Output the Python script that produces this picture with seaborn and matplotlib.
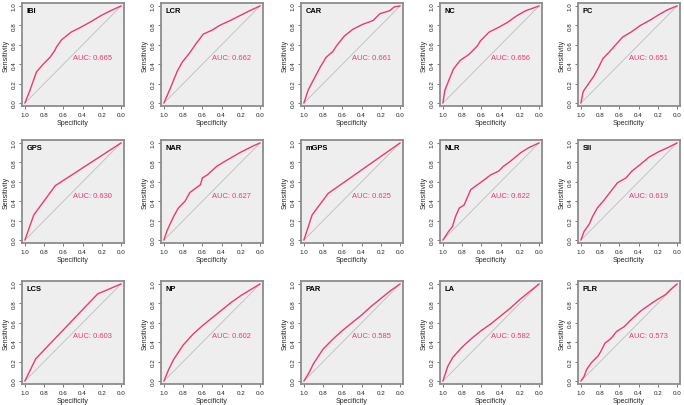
import matplotlib
matplotlib.use("Agg")
import matplotlib.pyplot as plt
import seaborn as sns
import pandas as pd

# ---------------- data ----------------
markers = ["IBI", "LCR", "CAR", "NC", "PC",
           "GPS", "NAR", "mGPS", "NLR", "SII",
           "LCS", "NP", "PAR", "LA", "PLR"]
auc_values = [0.665, 0.662, 0.661, 0.656, 0.651,
              0.630, 0.627, 0.625, 0.622, 0.619,
              0.603, 0.602, 0.585, 0.582, 0.573]

ibi_spec = [1.0, 0.948, 0.88, 0.81, 0.74, 0.69, 0.67, 0.62, 0.52, 0.42, 0.31, 0.21, 0.11, 0.0]
ibi_sens = [0.0, 0.13, 0.32, 0.40, 0.47, 0.54, 0.58, 0.65, 0.73, 0.78, 0.84, 0.90, 0.95, 1.0]

lcr_spec = [1.0, 0.93, 0.86, 0.81, 0.73, 0.66, 0.59, 0.50, 0.42, 0.31, 0.21, 0.11, 0.0]
lcr_sens = [0.0, 0.16, 0.33, 0.42, 0.52, 0.62, 0.71, 0.75, 0.80, 0.85, 0.90, 0.95, 1.0]

car_spec = [1.0, 0.955, 0.90, 0.83, 0.77, 0.70, 0.66, 0.58, 0.49, 0.39, 0.28, 0.21, 0.11, 0.06, 0.0]
car_sens = [0.0, 0.135, 0.24, 0.37, 0.47, 0.53, 0.59, 0.69, 0.76, 0.81, 0.85, 0.92, 0.95, 0.99, 1.0]

nc_spec = [1.0, 0.98, 0.94, 0.89, 0.82, 0.73, 0.64, 0.61, 0.52, 0.42, 0.33, 0.23, 0.14, 0.0]
nc_sens = [0.0, 0.13, 0.23, 0.35, 0.44, 0.50, 0.59, 0.64, 0.73, 0.78, 0.83, 0.90, 0.95, 1.0]

pc_spec = [1.0, 0.976, 0.92, 0.87, 0.82, 0.77, 0.70, 0.63, 0.565, 0.48, 0.38, 0.27, 0.19, 0.10, 0.0]
pc_sens = [0.0, 0.12, 0.20, 0.27, 0.36, 0.46, 0.53, 0.61, 0.68, 0.73, 0.80, 0.86, 0.91, 0.96, 1.0]

gps_spec = [1.0, 0.907, 0.684, 0.0]
gps_sens = [0.0, 0.26, 0.56, 1.0]

nar_spec = [1.0, 0.966, 0.90, 0.85, 0.78, 0.73, 0.62, 0.60, 0.55, 0.45, 0.35, 0.21, 0.07, 0.0]
nar_sens = [0.0, 0.10, 0.24, 0.33, 0.40, 0.49, 0.57, 0.64, 0.67, 0.76, 0.82, 0.90, 0.97, 1.0]

mgps_spec = [1.0, 0.914, 0.748, 0.0]
mgps_sens = [0.0, 0.26, 0.48, 1.0]

nlr_spec = [1.0, 0.94, 0.90, 0.87, 0.83, 0.78, 0.75, 0.71, 0.64, 0.57, 0.505, 0.42, 0.37, 0.30, 0.19, 0.11, 0.0]
nlr_sens = [0.0, 0.09, 0.14, 0.24, 0.33, 0.36, 0.43, 0.52, 0.57, 0.62, 0.67, 0.71, 0.76, 0.81, 0.90, 0.95, 1.0]

sii_spec = [1.0, 0.966, 0.91, 0.88, 0.83, 0.76, 0.69, 0.62, 0.53, 0.47, 0.38, 0.29, 0.19, 0.09, 0.0]
sii_sens = [0.0, 0.09, 0.17, 0.24, 0.33, 0.41, 0.50, 0.59, 0.64, 0.71, 0.78, 0.855, 0.91, 0.955, 1.0]

lcs_spec = [1.0, 0.887, 0.244, 0.0]
lcs_sens = [0.0, 0.23, 0.897, 1.0]

np_spec = [1.0, 0.95, 0.90, 0.80, 0.70, 0.60, 0.50, 0.40, 0.30, 0.20, 0.10, 0.0]
np_sens = [0.0, 0.12, 0.22, 0.37, 0.48, 0.57, 0.65, 0.73, 0.81, 0.88, 0.94, 1.0]

par_spec = [1.0, 0.95, 0.90, 0.80, 0.70, 0.60, 0.50, 0.40, 0.30, 0.20, 0.10, 0.0]
par_sens = [0.0, 0.08, 0.18, 0.33, 0.43, 0.52, 0.60, 0.68, 0.77, 0.85, 0.93, 1.0]

la_spec = [1.0, 0.95, 0.90, 0.80, 0.70, 0.60, 0.50, 0.40, 0.30, 0.20, 0.10, 0.0]
la_sens = [0.0, 0.15, 0.24, 0.35, 0.44, 0.52, 0.59, 0.67, 0.75, 0.84, 0.92, 1.0]

plr_spec = [1.0, 0.966, 0.94, 0.89, 0.82, 0.79, 0.75, 0.685, 0.63, 0.55, 0.48, 0.38, 0.31, 0.205, 0.12, 0.07, 0.0]
plr_sens = [0.0, 0.05, 0.12, 0.19, 0.26, 0.31, 0.39, 0.44, 0.51, 0.56, 0.63, 0.72, 0.77, 0.84, 0.89, 0.94, 1.0]

curves = {
    "IBI": (ibi_spec, ibi_sens), "LCR": (lcr_spec, lcr_sens), "CAR": (car_spec, car_sens),
    "NC": (nc_spec, nc_sens), "PC": (pc_spec, pc_sens), "GPS": (gps_spec, gps_sens),
    "NAR": (nar_spec, nar_sens), "mGPS": (mgps_spec, mgps_sens), "NLR": (nlr_spec, nlr_sens),
    "SII": (sii_spec, sii_sens), "LCS": (lcs_spec, lcs_sens), "NP": (np_spec, np_sens),
    "PAR": (par_spec, par_sens), "LA": (la_spec, la_sens), "PLR": (plr_spec, plr_sens),
}
tick_vals = [0.0, 0.2, 0.4, 0.6, 0.8, 1.0]
tick_labels = ["0.0", "0.2", "0.4", "0.6", "0.8", "1.0"]

# ---------------- style ----------------
sns.set_style("white")
plt.rcParams["font.family"] = ["Liberation Sans Narrow", "Liberation Sans", "DejaVu Sans"]

W, H = 684, 406
fig = plt.figure(figsize=(W / 100, H / 100), dpi=100)

col_left = [22, 161, 301, 440, 578]
row_top = [4, 141, 282]
bw, bh = 102, 103
curve_col = "#F0386C"
pad = 0.03

for i, name in enumerate(markers):
    r, c = divmod(i, 5)
    x0 = col_left[c] / W
    y0 = 1 - (row_top[r] + bh) / H
    ax = fig.add_axes([x0, y0, bw / W, bh / H])
    ax.set_facecolor("#EEEEEE")
    spec, sens = curves[name]
    df = pd.DataFrame({"Specificity": spec, "Sensitivity": sens})
    # chance line
    sns.lineplot(x=[1.0, 0.0], y=[0.0, 1.0], ax=ax, color="#BDBDBD", lw=0.6, sort=False)
    sns.lineplot(data=df, x="Specificity", y="Sensitivity", ax=ax, color=curve_col,
                 lw=1.0, sort=False, estimator=None)
    ax.set_xlim(1 + pad, -pad)
    ax.set_ylim(-pad, 1 + pad)
    ax.set_xticks(tick_vals)
    ax.set_xticklabels(tick_labels, fontsize=4.5)
    ax.set_yticks(tick_vals)
    ax.set_yticklabels(tick_labels, fontsize=4.5, rotation=90, va="center")
    ax.tick_params(axis="both", length=2.5, width=0.5, pad=1.5, color="#444444",
                   labelcolor="#222222", direction="out", bottom=True, left=True)
    ax.set_xlabel("Specificity", fontsize=5.0, labelpad=1.5)
    ax.set_ylabel("Sensitivity", fontsize=5.0, labelpad=1.5)
    for s in ax.spines.values():
        s.set_color("#8C8C8C")
        s.set_linewidth(1.3)
    ax.text(0.5, 0.5, f"AUC: {auc_values[i]:.3f}", color=curve_col, fontsize=5.4,
            ha="left", va="top")
    ax.text(0.985, 0.99, name, color="black", fontsize=5.4, fontweight="bold",
            ha="left", va="top")

fig.savefig("out.png", dpi=100)
